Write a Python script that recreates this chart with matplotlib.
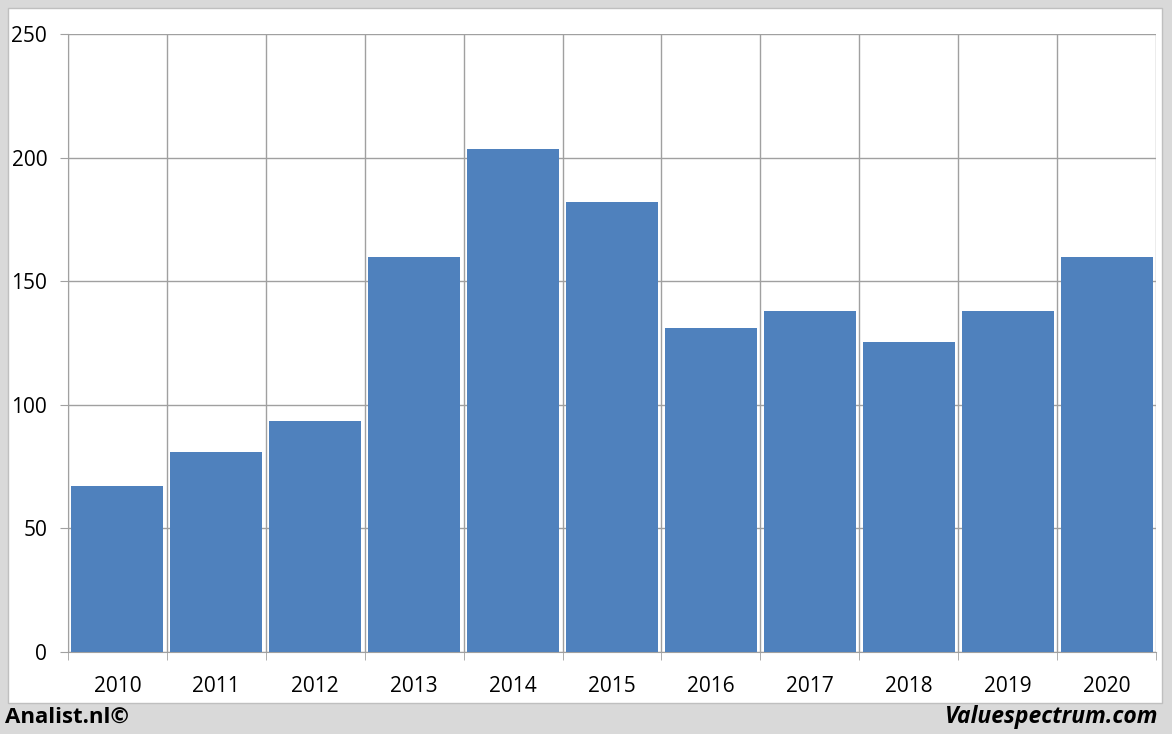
import matplotlib.pyplot as plt
from matplotlib.patches import Rectangle
from matplotlib.ticker import MultipleLocator, FixedLocator, NullFormatter

years = ['2010', '2011', '2012', '2013', '2014', '2015',
         '2016', '2017', '2018', '2019', '2020']
values = [67.2, 80.9, 93.4, 159.8, 203.5, 182.0,
          131.1, 137.9, 125.4, 137.9, 159.8]

W, H = 1172, 734
plt.rcParams['font.family'] = ['Open Sans', 'DejaVu Sans']
fig = plt.figure(figsize=(W / 100, H / 100), dpi=100, facecolor='#d9d9d9')

# white panel inside the grey frame
fig.patches.append(Rectangle((8 / W, 1 - 703 / H), (1162 - 8) / W, (703 - 8) / H,
                             transform=fig.transFigure, facecolor='white',
                             edgecolor='#bfbfbf', linewidth=1, zorder=-5))

ax = fig.add_axes([68 / W, 1 - 652 / H, (1156 - 68) / W, (652 - 34) / H])
ax.set_zorder(2)
ax.set_facecolor('white')

x = list(range(len(years)))
ax.bar(x, values, width=0.93, color='#4f81bd', zorder=3)

ax.set_xlim(-0.5, len(years) - 0.5)
ax.set_ylim(0, 250)
ax.yaxis.set_major_locator(MultipleLocator(50))
ax.set_xticks(x)
ax.set_xticklabels(years)
ax.xaxis.set_minor_locator(FixedLocator([i - 0.5 for i in range(len(years) + 1)]))
ax.xaxis.set_minor_formatter(NullFormatter())

ax.grid(axis='y', color='#a0a0a0', linewidth=1, zorder=0)
ax.grid(axis='x', which='minor', color='#a0a0a0', linewidth=1, zorder=0)
ax.set_axisbelow(True)

for s in ['top', 'right']:
    ax.spines[s].set_visible(False)
for s in ['left', 'bottom']:
    ax.spines[s].set_color('#a0a0a0')

ax.tick_params(axis='x', which='major', length=0, pad=17, labelsize=15)
ax.tick_params(axis='x', which='minor', length=6, color='#a0a0a0', direction='out')
ax.tick_params(axis='y', length=6, color='#a0a0a0', labelsize=15, pad=9)

fig.text(5 / W, 1 - 717 / H, 'Analist.nl©', fontsize=16, fontweight='bold',
         va='center', ha='left')
fig.text(1158 / W, 1 - 717 / H, 'Valuespectrum.com', fontsize=16.5, fontweight='bold',
         style='italic', va='center', ha='right')

fig.savefig('out.png', dpi=100, facecolor=fig.get_facecolor())
